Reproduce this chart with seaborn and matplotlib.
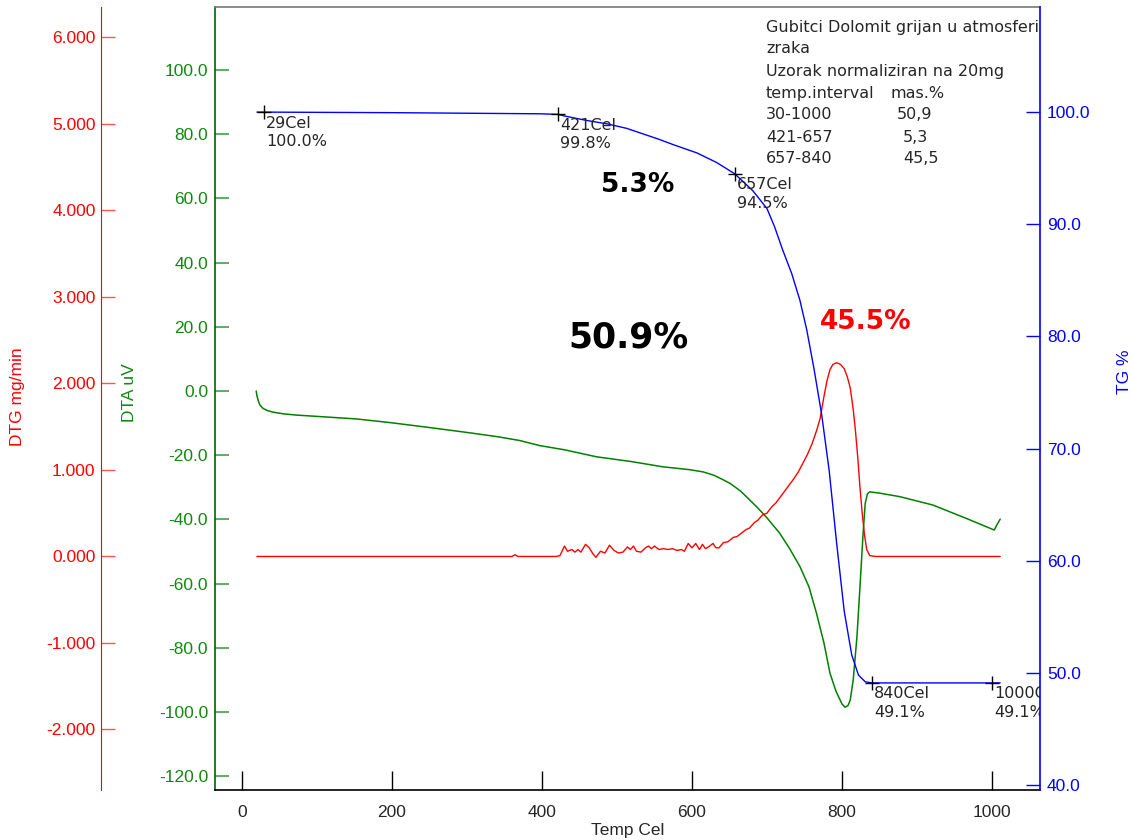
import numpy as np
import pandas as pd
import matplotlib
matplotlib.use('Agg')
import matplotlib.pyplot as plt
import seaborn as sns

# DTA (uV) curve
dta_temp = [19, 20, 22, 24, 28, 34, 42, 55, 73, 100, 153, 200, 251, 300, 340, 370, 397, 430,
            473, 520, 561, 597, 615, 630, 642, 651, 665, 686, 700, 717, 730, 744, 756, 766,
            776, 784, 792, 800, 804, 808, 811, 815, 820, 824, 828, 831, 834, 837, 850, 877,
            921, 966, 1003, 1007, 1011]
dta_val = [0.0, -1.5, -3.2, -4.4, -5.4, -6.1, -6.6, -7.1, -7.5, -7.9, -8.7, -9.9, -11.4, -12.9,
           -14.2, -15.4, -17.0, -18.3, -20.5, -22.0, -23.6, -24.5, -25.2, -26.3, -27.7, -28.8,
           -31.2, -36.0, -39.5, -44.3, -49.0, -54.7, -61.0, -69.2, -78.5, -87.9, -93.5, -97.5,
           -98.5, -98.0, -96.3, -90.0, -76.5, -61.0, -45.0, -35.0, -32.0, -31.4, -31.8, -32.9,
           -35.5, -39.7, -43.3, -41.5, -39.9]

# DTG (mg/min) curve
dtg_temp = [20, 360, 364, 368, 419, 424, 430, 434, 440, 444, 448, 452, 458, 463, 468, 472, 478,
            484, 490, 496, 502, 508, 514, 518, 522, 526, 532, 538, 542, 546, 550, 556, 562, 568,
            574, 580, 586, 590, 595, 600, 605, 610, 614, 618, 622, 628, 632, 636, 642, 648, 655,
            660, 666, 672, 677, 683, 688, 694, 700, 706, 712, 718, 724, 730, 736, 742, 748, 754,
            760, 766, 771, 776, 780, 784, 788, 793, 798, 803, 807, 811, 815, 818, 821, 824, 827,
            830, 833, 837, 845, 1011]
dtg_val = [0.0, 0.0, 0.02, 0.0, 0.0, 0.01, 0.12, 0.06, 0.08, 0.05, 0.08, 0.05, 0.14, 0.10, 0.03,
           -0.01, 0.06, 0.04, 0.13, 0.07, 0.04, 0.05, 0.11, 0.08, 0.12, 0.06, 0.05, 0.10, 0.12,
           0.09, 0.12, 0.08, 0.09, 0.08, 0.09, 0.07, 0.08, 0.06, 0.15, 0.10, 0.15, 0.08, 0.14,
           0.09, 0.11, 0.15, 0.10, 0.10, 0.16, 0.17, 0.22, 0.23, 0.27, 0.31, 0.33, 0.39, 0.42,
           0.48, 0.50, 0.57, 0.62, 0.69, 0.76, 0.83, 0.90, 0.98, 1.08, 1.18, 1.30, 1.45, 1.60,
           1.85, 2.03, 2.16, 2.22, 2.24, 2.22, 2.17, 2.08, 1.95, 1.70, 1.45, 1.15, 0.80, 0.50,
           0.25, 0.08, 0.01, 0.0, 0.0]

# TG (%) curve
tg_temp = [20, 29, 200, 397, 421, 431, 460, 487, 513, 535, 555, 575, 607, 633, 657, 681, 700,
           710, 721, 733, 744, 753, 763, 773, 783, 793, 803, 813, 822, 831, 840, 1011]
tg_val = [100.0, 100.0, 99.95, 99.85, 99.8, 99.64, 99.25, 98.95, 98.55, 98.05, 97.6, 97.1,
          96.35, 95.5, 94.5, 93.0, 91.4, 89.8, 87.7, 85.6, 83.2, 80.6, 77.0, 73.0, 68.0, 61.5,
          55.5, 51.6, 49.8, 49.2, 49.1, 49.1]

# marked points on TG
mark_temp = [29, 421, 657, 840, 1000]
mark_tg = [100.0, 99.8, 94.5, 49.1, 49.1]

info_left = ["Gubitci Dolomit grijan u atmosferi", "zraka", "Uzorak normaliziran na 20mg",
             "temp.interval", "30-1000", "421-657", "657-840"]
info_right = ["mas.%", "50,9", "5,3", "45,5"]

sns.set_style('white')
plt.rcParams['font.family'] = ['Liberation Sans', 'DejaVu Sans']

RED = '#ff0000'
GREEN = '#118811'
BLUE = '#0000ff'

fig = plt.figure(figsize=(11.32, 8.4), dpi=100)
ax = fig.add_axes([0.1899, 0.0595, 0.7288, 0.932])
ax_dtg = ax.twinx()
ax_tg = ax.twinx()

sns.lineplot(x=dta_temp, y=dta_val, ax=ax, color='green', linewidth=1.1)
sns.lineplot(x=dtg_temp, y=dtg_val, ax=ax_dtg, color=RED, linewidth=1)
sns.lineplot(x=tg_temp, y=tg_val, ax=ax_tg, color=BLUE, linewidth=1)
sns.scatterplot(x=mark_temp, y=mark_tg, ax=ax_tg, marker='+', s=110, color='black',
                linewidth=1, zorder=5)

ax.set_xlim(-36, 1064)
ax.set_ylim(-124.3, 119.6)
ax_dtg.set_ylim(-2.70, 6.35)
ax_tg.set_ylim(39.55, 109.36)

# x axis
ax.set_xticks(np.arange(0, 1001, 200))
ax.tick_params(axis='x', direction='in', length=14, width=1, color='black', pad=11,
               labelsize=12.5, bottom=True)
ax.set_xlabel('Temp Cel', fontsize=12.5, labelpad=2)

# DTA axis (inner left)
ax.set_yticks(np.arange(-120, 101, 20))
ax.yaxis.set_major_formatter(matplotlib.ticker.FormatStrFormatter('%.1f'))
ax.tick_params(axis='y', direction='in', length=10, width=1.2, color='#44a044',
               labelcolor=GREEN, labelsize=12.5, pad=5, left=True)
ax.set_ylabel('DTA uV', color=GREEN, fontsize=12.5)
ax.yaxis.set_label_coords(-0.094, 0.508)
ax.spines['left'].set_color('#006400')
ax.spines['bottom'].set_color('black')
ax.spines['top'].set_color('#777777')
ax.spines['right'].set_visible(False)
for s in ax.spines.values():
    s.set_linewidth(1.2)

# DTG axis (outer left)
ax_dtg.yaxis.set_ticks_position('left')
ax_dtg.yaxis.set_label_position('left')
for side in ['right', 'top', 'bottom']:
    ax_dtg.spines[side].set_visible(False)
ax_dtg.spines['left'].set_visible(True)
ax_dtg.spines['left'].set_position(('axes', -0.138))
ax_dtg.spines['left'].set_color(RED)
ax_dtg.set_yticks(np.arange(-2, 7, 1))
ax_dtg.yaxis.set_major_formatter(matplotlib.ticker.FormatStrFormatter('%.3f'))
ax_dtg.tick_params(axis='y', direction='in', length=10, width=1, color='#ff5555',
                   labelcolor=RED, labelsize=12.5, pad=4, left=True, right=False)
ax_dtg.set_ylabel('DTG mg/min', color=RED, fontsize=12.5)
ax_dtg.yaxis.set_label_coords(-0.230, 0.502)

# TG axis (right)
for side in ['left', 'top', 'bottom']:
    ax_tg.spines[side].set_visible(False)
ax_tg.spines['right'].set_color(BLUE)
ax_tg.spines['right'].set_linewidth(1.2)
ax_tg.set_yticks(np.arange(40, 101, 10))
ax_tg.yaxis.set_major_formatter(matplotlib.ticker.FormatStrFormatter('%.1f'))
ax_tg.tick_params(axis='y', direction='in', length=10, width=1, color=BLUE,
                  labelcolor=BLUE, labelsize=12.5, pad=5, right=True)
ax_tg.set_ylabel('TG %', color=BLUE, fontsize=12.5)
ax_tg.yaxis.set_label_coords(1.093, 0.534)

# marker labels
for t, v in zip(mark_temp, mark_tg):
    ax_tg.annotate(f"{t}Cel\n{v:.1f}%", xy=(t, v), xytext=(1.5, -2.5),
                   textcoords='offset points', ha='left', va='top', fontsize=11.5,
                   family='DejaVu Sans', linespacing=1.3, clip_on=True, zorder=6)

# big percent labels
ax_tg.text(515, 79.9, '50.9%', ha='center', va='center', fontsize=25, fontweight='bold',
           family='DejaVu Sans', color='black')
ax_tg.text(527, 93.5, '5.3%', ha='center', va='center', fontsize=19, fontweight='bold',
           family='DejaVu Sans', color='black')
ax_tg.text(832, 81.3, '45.5%', ha='center', va='center', fontsize=19, fontweight='bold',
           family='DejaVu Sans', color=RED)

# info text block
x0 = (766 - 215) / 825
line_y = [(790 - y) / 783 for y in [27, 48, 71, 93, 114, 137, 158]]
for txt, y in zip(info_left, line_y):
    ax_tg.text(x0, y, txt, transform=ax_tg.transAxes, ha='left', va='center',
               fontsize=11.5, family='DejaVu Sans', clip_on=True)
right_x = [(891 - 215) / 825, (897 - 215) / 825, (903 - 215) / 825, (903 - 215) / 825]
for txt, xx, y in zip(info_right, right_x, line_y[3:]):
    ax_tg.text(xx, y, txt, transform=ax_tg.transAxes, ha='left', va='center',
               fontsize=11.5, family='DejaVu Sans', clip_on=True)

plt.savefig('out.png', dpi=100)
plt.close()
